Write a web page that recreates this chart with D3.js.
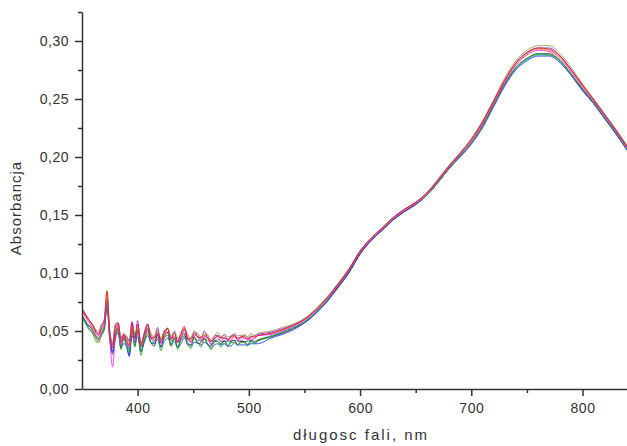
<!DOCTYPE html>
<html>
<head>
<meta charset="utf-8">
<script src="https://cdn.jsdelivr.net/npm/d3@7"></script>
<style>
  body { margin: 0; background: #fff; }
  svg { display: block; }
  .tick text { font-family: "Liberation Sans", Arial, sans-serif; }
</style>
</head>
<body>
<div id="chart"></div>
<script>
// wavelengths (nm)
const wavelength = [350,352.5,355,357.5,360,362.5,365,367.5,370,372.5,375,377.5,380,382.5,385,387.5,390,392.5,395,397.5,400,
  403,406,409,412,415,418,421,424,427,430,433,436,439,442,445,448,451,454,457,460,463,466,469,472,475,478,481,484,487,490,493,496,499,502,505,508,
  520,530,540,550,560,570,580,590,600,610,620,630,640,650,660,670,680,690,700,710,720,730,740,750,760,770,780,790,800,810,820,830,840];

const absTeal = [.064,.060,.056,.053,.050,.045,.043,.049,.054,.074,.044,.033,.051,.049,.040,.042,.043,.033,.049,.044,.047,
  .036,.041,.050,.044,.041,.046,.040,.045,.046,.041,.043,.040,.043,.046,.042,.041,.044,.042,.042,.043,.042,.039,.040,.043,.041,.041,.041,.041,.042,.041,.041,.041,.041,.042,.041,.042,
  .046,.049,.053,.058,.066,.076,.088,.101,.117,.128,.137,.146,.153,.159,.167,.178,.190,.201,.212,.226,.244,.262,.276,.284,.288,.288,.282,.271,.258,.247,.234,.221,.207];
const absBlack = [.063,.059,.055,.054,.050,.046,.044,.048,.052,.072,.047,.030,.044,.053,.035,.045,.037,.029,.052,.037,.050,
  .032,.043,.052,.040,.037,.047,.036,.046,.049,.037,.044,.036,.044,.048,.038,.038,.045,.039,.040,.044,.038,.037,.042,.041,.039,.042,.037,.041,.042,.038,.041,.041,.038,.042,.040,.042,
  .045,.048,.052,.057,.065,.075,.087,.100,.116,.128,.137,.146,.153,.159,.167,.178,.190,.201,.212,.227,.245,.263,.277,.285,.289,.289,.283,.271,.258,.246,.233,.220,.206];
const absBlue = [.061,.058,.054,.051,.048,.044,.042,.046,.051,.070,.043,.032,.047,.048,.036,.039,.038,.028,.046,.040,.045,
  .033,.040,.046,.040,.039,.043,.036,.041,.044,.039,.041,.036,.039,.044,.040,.037,.040,.040,.038,.040,.039,.035,.038,.039,.038,.039,.037,.037,.040,.038,.038,.038,.038,.039,.039,.039,
  .044,.047,.051,.057,.065,.075,.088,.101,.117,.128,.137,.146,.153,.159,.167,.178,.190,.200,.211,.225,.243,.261,.275,.283,.287,.287,.281,.270,.257,.246,.233,.220,.206];
const absGreen = [.062,.058,.053,.050,.047,.041,.040,.047,.053,.075,.042,.036,.043,.052,.034,.044,.036,.032,.052,.036,.051,
  .029,.042,.048,.040,.040,.043,.033,.044,.048,.037,.044,.034,.042,.045,.039,.035,.044,.041,.036,.043,.039,.034,.041,.041,.036,.041,.037,.040,.040,.038,.040,.040,.037,.041,.039,.041,
  .045,.049,.053,.058,.066,.076,.089,.102,.118,.129,.138,.147,.154,.160,.167,.178,.190,.201,.212,.226,.244,.262,.277,.285,.289,.288,.283,.271,.259,.247,.234,.221,.207];
const absOrange = [.068,.064,.060,.056,.051,.044,.040,.050,.057,.085,.048,.039,.049,.056,.043,.045,.045,.037,.053,.047,.052,
  .039,.044,.055,.047,.042,.050,.043,.046,.053,.044,.045,.043,.045,.052,.046,.041,.048,.047,.042,.047,.046,.041,.043,.046,.044,.044,.043,.044,.045,.044,.045,.044,.043,.046,.044,.046,
  .048,.051,.055,.060,.068,.078,.090,.103,.118,.129,.138,.147,.154,.160,.168,.180,.192,.203,.214,.229,.247,.265,.280,.289,.293,.292,.286,.274,.261,.249,.236,.223,.209];
const absPurple = [.069,.065,.061,.058,.055,.050,.048,.055,.058,.076,.050,.038,.056,.057,.044,.046,.045,.041,.058,.043,.059,
  .039,.049,.056,.044,.045,.053,.040,.050,.052,.044,.050,.041,.048,.052,.043,.044,.050,.045,.044,.050,.044,.041,.046,.046,.044,.047,.042,.046,.047,.044,.044,.047,.044,.045,.046,.047,
  .049,.052,.055,.060,.068,.078,.090,.103,.119,.130,.139,.148,.155,.161,.169,.180,.192,.203,.215,.230,.248,.266,.281,.290,.294,.294,.287,.275,.262,.250,.237,.223,.209];
const absMagenta = [.067,.063,.059,.056,.053,.048,.046,.052,.055,.077,.042,.019,.046,.055,.038,.048,.040,.036,.058,.041,.055,
  .038,.046,.051,.044,.041,.050,.039,.049,.049,.043,.045,.041,.043,.051,.044,.040,.047,.045,.041,.045,.044,.038,.044,.045,.041,.044,.042,.042,.046,.042,.042,.044,.043,.043,.043,.046,
  .047,.050,.054,.059,.067,.077,.089,.102,.118,.129,.138,.147,.154,.160,.168,.179,.191,.202,.213,.228,.246,.264,.279,.288,.292,.291,.285,.273,.260,.248,.235,.222,.208];
const absOlive = [.070,.066,.062,.058,.055,.051,.050,.056,.059,.078,.049,.041,.054,.054,.045,.047,.046,.042,.054,.048,.053,
  .040,.047,.054,.048,.045,.051,.044,.050,.052,.046,.049,.044,.047,.052,.047,.044,.049,.048,.045,.048,.047,.042,.045,.049,.045,.047,.045,.045,.048,.046,.046,.046,.045,.048,.046,.048,
  .050,.053,.056,.061,.069,.079,.091,.104,.119,.130,.139,.148,.155,.161,.169,.181,.193,.204,.216,.231,.249,.268,.283,.292,.296,.296,.289,.277,.263,.250,.237,.224,.210];
const absRed = [.068,.065,.061,.058,.054,.049,.047,.053,.060,.084,.047,.036,.053,.057,.041,.047,.041,.038,.057,.044,.056,
  .037,.047,.056,.044,.044,.048,.042,.049,.052,.042,.048,.040,.048,.054,.043,.043,.047,.045,.044,.046,.044,.041,.043,.046,.044,.044,.042,.045,.046,.042,.045,.045,.042,.045,.045,.046,
  .048,.051,.055,.060,.068,.078,.090,.103,.119,.130,.139,.148,.155,.161,.169,.180,.192,.203,.215,.230,.248,.266,.281,.290,.294,.293,.287,.275,.262,.249,.236,.223,.209];

const seriesValues = [absTeal, absBlack, absBlue, absGreen, absOrange, absPurple, absMagenta, absOlive, absRed];
const seriesColors = ["#1a9a9a", "#222222", "#1f3cff", "#19b019", "#f08c00", "#8a2be2", "#ff20ff", "#9a9a40", "#e0102a"];

const yTicks = [0, 0.05, 0.10, 0.15, 0.20, 0.25, 0.30];
const yMinor = [0.025, 0.075, 0.125, 0.175, 0.225, 0.275, 0.325];
const xTicks = [400, 500, 600, 700, 800];
const xMinor = [450, 550, 650, 750];

const W = 627, H = 446;
const margin = {top: 12, right: 0, bottom: 57, left: 82};

const svg = d3.select("#chart")
  .append("svg")
    .attr("width", W)
    .attr("height", H);

const x = d3.scaleLinear()
  .domain([350, 840])
  .range([margin.left, W - margin.right]);

const y = d3.scaleLinear()
  .domain([0, 0.325])
  .range([H - margin.bottom, margin.top]);

svg.append("clipPath")
  .attr("id", "plot-clip")
  .append("rect")
    .attr("x", margin.left)
    .attr("y", 0)
    .attr("width", W - margin.left)
    .attr("height", H - margin.bottom);

const line = d3.line()
  .defined(d => d[1] != null)
  .x(d => x(d[0]))
  .y(d => y(d[1]))
  .curve(d3.curveMonotoneX);

svg.append("g")
  .attr("clip-path", "url(#plot-clip)")
  .selectAll("path")
  .data(seriesValues)
  .join("path")
    .attr("fill", "none")
    .attr("stroke", (d, i) => seriesColors[i])
    .attr("stroke-width", 1)
    .attr("stroke-opacity", 0.85)
    .attr("d", d => line(wavelength.map((w, i) => [w, d[i]])));

const fmt = d => d3.format(".2f")(d).replace(".", ",");
const axisColor = "#333";

// minor ticks first, then main axes
svg.append("g")
  .attr("transform", `translate(${margin.left},0)`)
  .call(d3.axisLeft(y).tickValues(yMinor).tickSize(4).tickFormat(""))
  .call(g => g.select(".domain").remove());

svg.append("g")
  .attr("transform", `translate(0,${H - margin.bottom})`)
  .call(d3.axisBottom(x).tickValues(xMinor).tickSize(4).tickFormat(""))
  .call(g => g.select(".domain").remove());

const gy = svg.append("g")
  .attr("transform", `translate(${margin.left},0)`)
  .call(d3.axisLeft(y).tickValues(yTicks).tickSize(7).tickSizeOuter(0).tickPadding(6).tickFormat(fmt));

const gx = svg.append("g")
  .attr("transform", `translate(0,${H - margin.bottom})`)
  .call(d3.axisBottom(x).tickValues(xTicks).tickSize(7).tickSizeOuter(0).tickPadding(7).tickFormat(d3.format("d")));

[gx, gy].forEach(g => {
  g.selectAll(".domain")
    .attr("stroke", axisColor)
    .attr("stroke-width", 1.5);
  g.selectAll(".tick text")
    .attr("fill", axisColor)
    .style("font-size", "14px")
    .style("letter-spacing", "0.5px");
});
svg.selectAll(".tick line").attr("stroke", axisColor).attr("stroke-width", 1.5);

svg.append("text")
  .attr("x", 361)
  .attr("y", 440)
  .attr("text-anchor", "middle")
  .style("font-family", "'Liberation Sans', Arial, sans-serif")
  .style("font-size", "15px")
  .style("letter-spacing", "2px")
  .style("fill", axisColor)
  .text("długosc fali, nm");

svg.append("text")
  .attr("transform", "translate(21,208) rotate(-90)")
  .attr("text-anchor", "middle")
  .style("font-family", "'Liberation Sans', Arial, sans-serif")
  .style("font-size", "15px")
  .style("letter-spacing", "1px")
  .style("fill", axisColor)
  .text("Absorbancja");
</script>
</body>
</html>
